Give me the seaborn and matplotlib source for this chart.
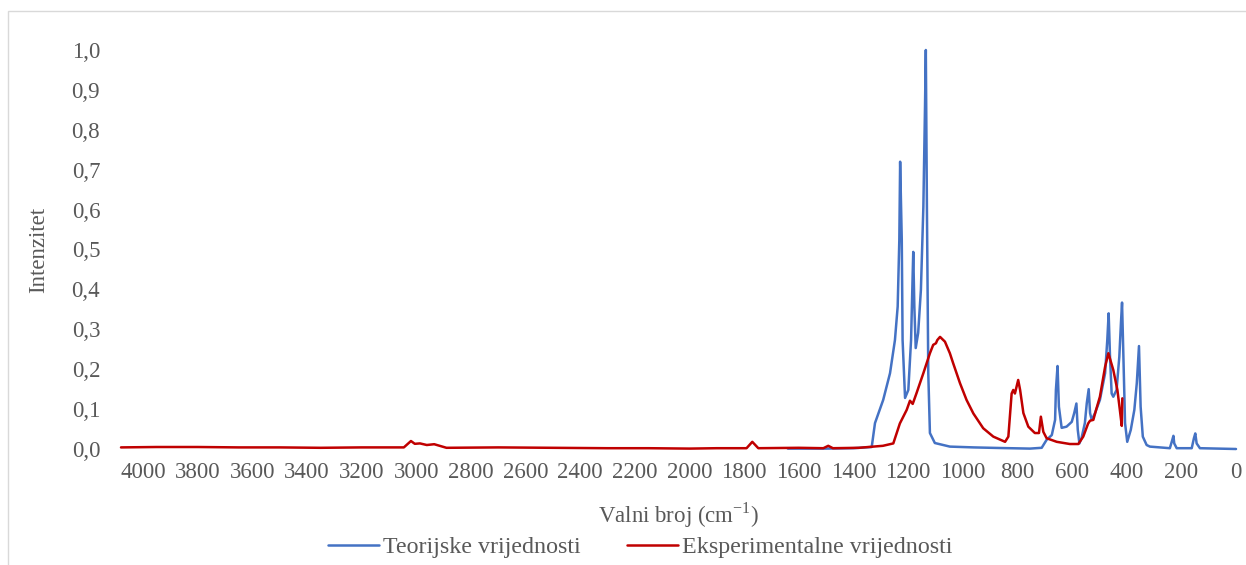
import pandas as pd
import seaborn as sns
import matplotlib.pyplot as plt
from matplotlib.patches import Rectangle
from matplotlib.ticker import FuncFormatter, MultipleLocator

# Theoretical spectrum (wavenumber cm-1, intensity)
teor_x = [1640, 1500, 1400, 1333, 1321, 1291, 1266, 1248, 1238, 1232, 1229, 1223, 1220,
          1211, 1199, 1189, 1183, 1181, 1177, 1172, 1163, 1153, 1144, 1138, 1135, 1131,
          1126, 1120, 1102, 1047, 960, 864, 754, 711, 693, 674, 662, 659, 653, 648, 638,
          620, 601, 592, 584, 579, 573, 565, 553, 546, 539, 534, 528, 516, 498, 479,
          471, 466, 461, 455, 449, 437, 427, 421, 417, 412, 406, 398, 385, 372, 363,
          355, 349, 341, 327, 315, 242, 233, 229, 226, 217, 162, 154, 149, 144, 132, 0]
teor_y = [0.001, 0.001, 0.002, 0.005, 0.065, 0.123, 0.19, 0.273, 0.357, 0.524, 0.72, 0.524, 0.273,
          0.128, 0.148, 0.273, 0.441, 0.494, 0.357, 0.253, 0.291, 0.399, 0.607, 0.858, 1.0, 0.607,
          0.19, 0.04, 0.015, 0.006, 0.004, 0.0025, 0.001, 0.003, 0.023, 0.035, 0.073, 0.148, 0.208, 0.106, 0.053,
          0.056, 0.068, 0.09, 0.114, 0.048, 0.014, 0.028, 0.065, 0.115, 0.15, 0.09, 0.073, 0.09, 0.123, 0.19,
          0.273, 0.34, 0.231, 0.139, 0.131, 0.148, 0.231, 0.316, 0.367, 0.231, 0.065, 0.018, 0.048, 0.098, 0.165,
          0.258, 0.106, 0.031, 0.01, 0.006, 0.002, 0.023, 0.033, 0.014, 0.002, 0.002, 0.027, 0.039, 0.014, 0.002, 0.0]

# Experimental spectrum
eksp_x = [4080, 3950, 3800, 3650, 3500, 3350, 3200, 3045, 3019, 3005, 2986, 2961, 2934,
          2889, 2700, 2500, 2300, 2150, 2000, 1900, 1791, 1770, 1748, 1600, 1510, 1492,
          1475, 1380, 1292, 1254, 1230, 1205, 1193, 1183, 1169, 1144, 1120, 1108, 1098,
          1093, 1083, 1065, 1047, 1035, 1010, 986, 961, 925, 888, 845, 833, 821, 815,
          809, 797, 790, 778, 760, 736, 721, 714, 705, 693, 656, 608, 577, 559, 541,
          534, 522, 512, 498, 479, 467, 449, 434, 425, 418, 416]
eksp_y = [0.004, 0.005, 0.005, 0.004, 0.004, 0.003, 0.004, 0.004, 0.02, 0.013, 0.014, 0.01, 0.012,
          0.003, 0.004, 0.003, 0.002, 0.002, 0.001, 0.002, 0.002, 0.018, 0.002, 0.003, 0.002, 0.008,
          0.002, 0.003, 0.008, 0.014, 0.064, 0.098, 0.121, 0.113, 0.14, 0.19, 0.24, 0.261, 0.265,
          0.273, 0.281, 0.269, 0.24, 0.215, 0.165, 0.123, 0.089, 0.052, 0.031, 0.018, 0.031, 0.139, 0.148,
          0.139, 0.173, 0.148, 0.09, 0.056, 0.04, 0.04, 0.081, 0.043, 0.027, 0.018, 0.0125, 0.0125, 0.031, 0.064,
          0.071, 0.073, 0.098, 0.131, 0.206, 0.24, 0.198, 0.148, 0.098, 0.058, 0.127]

series_names = ['Teorijske vrijednosti', 'Eksperimentalne vrijednosti']
colors = ['#4472C4', '#C00000']

df = pd.concat([
    pd.DataFrame({'x': teor_x, 'y': teor_y, 'serija': series_names[0]}),
    pd.DataFrame({'x': eksp_x, 'y': eksp_y, 'serija': series_names[1]}),
], ignore_index=True)

sns.set_style('white')
plt.rcParams['font.family'] = ['Liberation Serif', 'DejaVu Serif']
plt.rcParams['mathtext.fontset'] = 'custom'
plt.rcParams['mathtext.rm'] = 'Liberation Serif'

grey = '#595959'
fs = 16.5

fig = plt.figure(figsize=(12.46, 5.65), dpi=100)
ax = fig.add_axes([121 / 1246, 116 / 565, 1115 / 1246, 399 / 565])

sns.lineplot(data=df, x='x', y='y', hue='serija', palette=colors, sort=False,
             estimator=None, linewidth=1.8, ax=ax)

ax.set_xlim(4080, 0)
ax.set_ylim(0, 1.0)
ax.xaxis.set_major_locator(MultipleLocator(200))
ax.yaxis.set_major_locator(MultipleLocator(0.1))
ax.yaxis.set_major_formatter(FuncFormatter(lambda v, p: f'{v:.1f}'.replace('.', ',')))
ax.tick_params(axis='both', length=0, labelsize=fs, labelcolor=grey)
ax.tick_params(axis='y', pad=15)
ax.tick_params(axis='x', pad=9)
for s in ax.spines.values():
    s.set_visible(False)
for line in ax.lines:
    line.set_clip_on(False)

ax.set_ylabel('Intenzitet', fontsize=fs, color=grey, labelpad=16)
ax.set_xlabel('Valni broj (cm$^{\\mathregular{-1}}$)', fontsize=fs, color=grey, labelpad=13)

handles, labels = ax.get_legend_handles_labels()
ax.legend_.remove()
fig.legend(handles, labels, loc='center', bbox_to_anchor=(0.514, 0.031), ncol=2,
           frameon=False, fontsize=17.3, labelcolor=grey, handlelength=2.1,
           handletextpad=0.17, columnspacing=1.95)

# chart border
fig.patches.append(Rectangle((8 / 1246, -0.1), 1.2, (565 - 11) / 565 + 0.1,
                             transform=fig.transFigure, fill=False,
                             edgecolor='#D9D9D9', linewidth=1))

fig.savefig('out.png', dpi=100)
